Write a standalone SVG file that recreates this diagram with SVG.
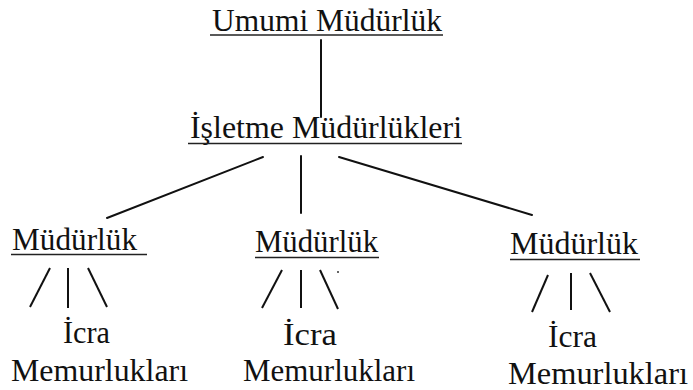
<svg xmlns="http://www.w3.org/2000/svg" width="693" height="390" viewBox="0 0 693 390">
<style>
text{font-family:"Liberation Serif","Times New Roman",serif;font-size:32px;fill:#111}
.ul{stroke:#222;stroke-width:1.6}
.c{stroke:#111;stroke-width:2;stroke-linecap:round;fill:none}
.s{stroke:#111;stroke-width:2;stroke-linecap:butt;fill:none}
</style>
<rect width="693" height="390" fill="#fff"/>
<g id="connectors">
<line class="c" x1="321" y1="40" x2="321" y2="117"/>
<line class="c" x1="263" y1="157" x2="107" y2="218"/>
<line class="c" x1="301" y1="156" x2="301" y2="213"/>
<line class="c" x1="339" y1="157" x2="532" y2="215"/>
<line class="s" x1="50" y1="268" x2="30" y2="307"/>
<line class="s" x1="68" y1="268" x2="68" y2="308"/>
<line class="s" x1="88" y1="268" x2="107" y2="307"/>
<line class="s" x1="282" y1="270" x2="262" y2="308"/>
<line class="s" x1="301" y1="270" x2="301" y2="308"/>
<line class="s" x1="320" y1="270" x2="338" y2="309"/>
<line class="s" x1="548" y1="275" x2="532" y2="312"/>
<line class="s" x1="571" y1="273" x2="571" y2="310"/>
<line class="s" x1="590" y1="273" x2="610" y2="312"/>
</g>
<g id="umumi">
<text x="212" y="31" textLength="230" lengthAdjust="spacingAndGlyphs">Umumi Müdürlük</text>
<line class="ul" x1="210" y1="35" x2="443" y2="35"/>
</g>
<g id="isletme">
<text x="190" y="138" textLength="272" lengthAdjust="spacingAndGlyphs">İşletme Müdürlükleri</text>
<line class="ul" x1="188" y1="143.5" x2="462" y2="143.5"/>
</g>
<g id="mudurluk1">
<text x="12" y="250" textLength="125" lengthAdjust="spacingAndGlyphs">Müdürlük</text>
<line class="ul" x1="11" y1="254.5" x2="147" y2="254.5"/>
</g>
<g id="mudurluk2">
<text x="255" y="252" textLength="123" lengthAdjust="spacingAndGlyphs">Müdürlük</text>
<line class="ul" x1="255" y1="257.5" x2="379" y2="257.5"/>
</g>
<g id="mudurluk3">
<text x="510" y="254" textLength="128" lengthAdjust="spacingAndGlyphs">Müdürlük</text>
<line class="ul" x1="510" y1="259.5" x2="640" y2="259.5"/>
</g>
<g id="icra1">
<text x="63" y="343" textLength="47" lengthAdjust="spacingAndGlyphs">İcra</text>
<text x="11" y="381" textLength="177" lengthAdjust="spacingAndGlyphs">Memurlukları</text>
</g>
<g id="icra2">
<circle cx="338" cy="272" r="1" fill="#333"/>
<text x="283" y="345" textLength="54" lengthAdjust="spacingAndGlyphs">İcra</text>
<text x="243" y="381" textLength="172" lengthAdjust="spacingAndGlyphs">Memurlukları</text>
</g>
<g id="icra3">
<text x="548" y="347" textLength="49" lengthAdjust="spacingAndGlyphs">İcra</text>
<text x="508" y="384" textLength="180" lengthAdjust="spacingAndGlyphs">Memurlukları</text>
</g>
</svg>
